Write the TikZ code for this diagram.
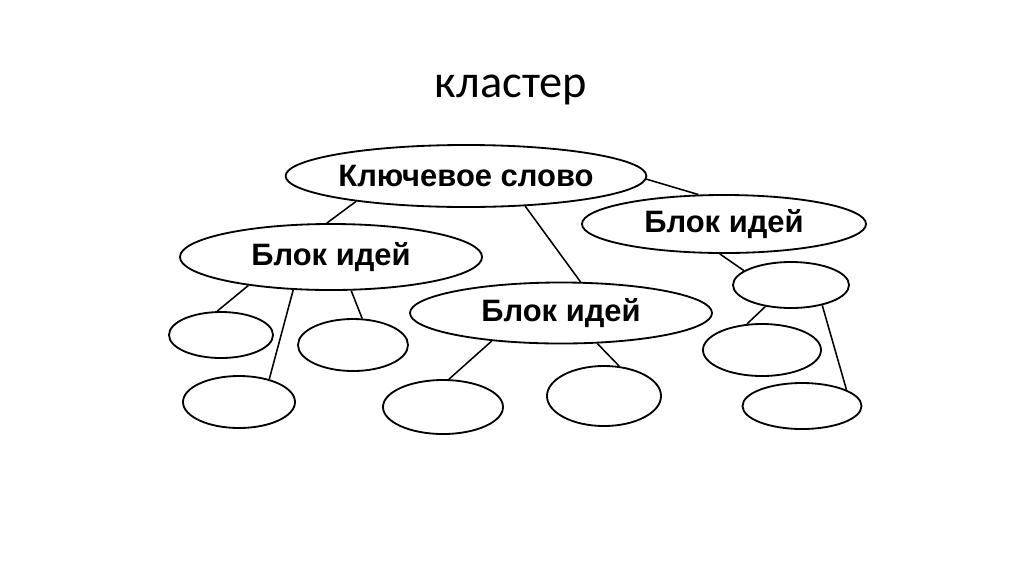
\documentclass[tikz,border=0pt]{standalone}
\usepackage{fontspec}
\setmainfont{Liberation Sans}
\newfontfamily\titlefont{Carlito}
\usetikzlibrary{shapes.geometric}
\tikzset{
	ell/.style={draw, ellipse, line width=1.3pt, inner sep=0pt, fill=white},
	blk/.style={ell, font=\fontsize{22}{26}\selectfont\bfseries},
	sm/.style={ell},
	con/.style={line width=1.1pt},
	ttl/.style={font=\titlefont\fontsize{33}{38}\selectfont, anchor=base},
}
\begin{document}
\begin{tikzpicture}[x=0.025cm, y=-0.025cm]
				\useasboundingbox (0,0) rectangle (1024,574);
				\node[ttl] at (511,97) (title) {кластер};
				\node[blk, minimum width=8.8cm, minimum height=1.55cm] at (466,176) (kw) {Ключевое слово};
				\node[blk, minimum width=7.55cm, minimum height=1.65cm] at (331,257) (blkL) {Блок идей};
				\node[blk, minimum width=7.55cm, minimum height=1.525cm] at (561,313) (blkM) {Блок идей};
				\node[blk, minimum width=7.1cm, minimum height=1.45cm] at (724,224) (blkR) {Блок идей};
				\node[sm, minimum width=2.6cm, minimum height=1.15cm] at (221,335) (s1) {};
				\node[sm, minimum width=2.75cm, minimum height=1.3cm] at (353,345) (s2) {};
				\node[sm, minimum width=2.8cm, minimum height=1.3cm] at (239,402) (s3) {};
				\node[sm, minimum width=3.0cm, minimum height=1.35cm] at (443,407) (s4) {};
				\node[sm, minimum width=2.85cm, minimum height=1.5cm] at (604,396) (s5) {};
				\node[sm, minimum width=2.9cm, minimum height=1.15cm] at (791,285) (s6) {};
				\node[sm, minimum width=2.95cm, minimum height=1.3cm] at (762,350) (s7) {};
				\node[sm, minimum width=2.975cm, minimum height=1.15cm] at (802,406) (s8) {};
				\draw[con] (kw.193) -- (blkL.97);
				\draw[con] (kw.333) -- (blkM.58);
				\draw[con] (kw.-1) -- (blkR.131);
				\draw[con] (blkL.199) -- (s1.99);
				\draw[con] (blkL.221) -- (s3.37);
				\draw[con] (blkL.301) -- (s2.71);
				\draw[con] (blkM.202) -- (s4.78);
				\draw[con] (blkM.320) -- (s5.63);
				\draw[con] (blkR.262) -- (s6.163);
				\draw[con] (s6.220) -- (s7.120);
				\draw[con] (s6.327) -- (s8.20);
			\end{tikzpicture}
\end{document}
